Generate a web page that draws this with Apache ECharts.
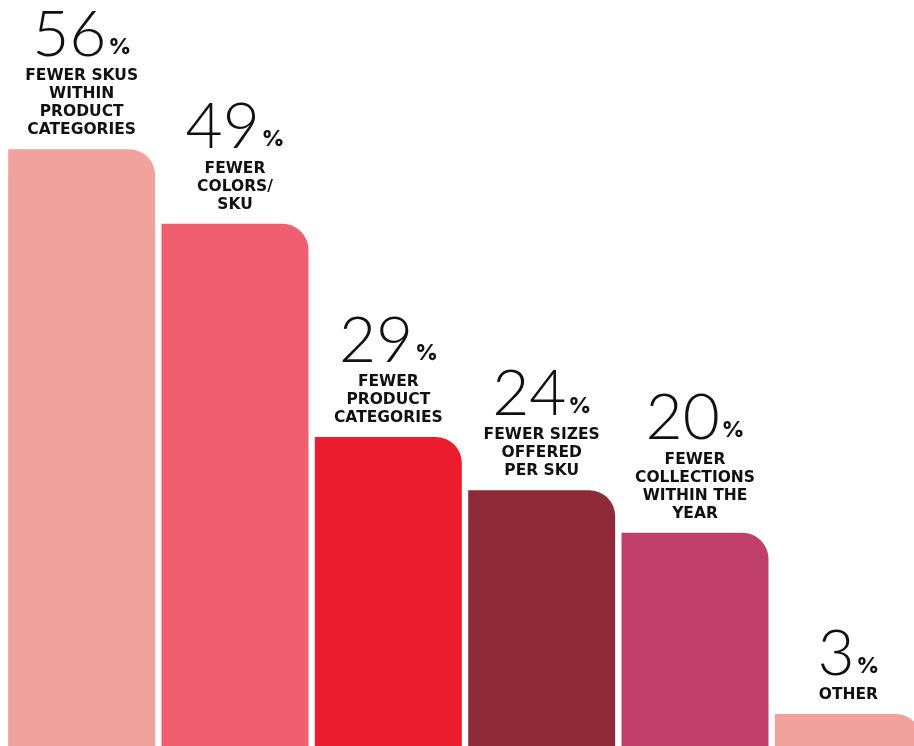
<!DOCTYPE html>
<html>
<head>
<meta charset="utf-8">
<script src="https://cdn.jsdelivr.net/npm/echarts@6/dist/echarts.min.js"></script>
<style>
  html, body { margin: 0; padding: 0; background: #ffffff; }
  #chart { width: 914px; height: 746px; }
</style>
</head>
<body>
<div id="chart"></div>
<script>
// Share of respondents reporting each kind of assortment reduction
const categories = [
  ['FEWER SKUS', 'WITHIN', 'PRODUCT', 'CATEGORIES'],
  ['FEWER', 'COLORS/', 'SKU'],
  ['FEWER', 'PRODUCT', 'CATEGORIES'],
  ['FEWER SIZES', 'OFFERED', 'PER SKU'],
  ['FEWER', 'COLLECTIONS', 'WITHIN THE', 'YEAR'],
  ['OTHER']
];
const values = [56, 49, 29, 24, 20, 3];
const colors = ['#f2a29c', '#ef5f70', '#ec1d2e', '#8f2a3b', '#c0406b', '#f2a29c'];

const chart = echarts.init(document.getElementById('chart'));

chart.setOption({
  backgroundColor: '#ffffff',
  animation: false,
  // the last bar runs past the right edge of the canvas
  grid: { left: 5, top: 0, bottom: 0, width: 920, outerBoundsMode: 'none', containLabel: false },
  xAxis: {
    type: 'category',
    data: categories.map(c => c.join(' ')),
    show: false
  },
  yAxis: { type: 'value', min: 0, max: 70, show: false },
  series: [{
    type: 'bar',
    barWidth: 147,
    data: values.map((v, i) => ({
      value: v,
      itemStyle: { color: colors[i], borderRadius: [0, 26, 0, 0] }
    })),
    label: {
      show: true,
      position: 'top',
      distance: 10,
      align: 'center',
      formatter: p => {
        const lines = categories[p.dataIndex].map(t => '{t|' + t + '}');
        return '{n|' + p.value + '}{p|%}\n' + lines.join('\n');
      },
      rich: {
        n: {
          fontFamily: 'Lato', fontWeight: 300, fontSize: 64,
          color: '#111111', lineHeight: 64, verticalAlign: 'bottom'
        },
        p: {
          fontFamily: 'Inter', fontWeight: 800, fontSize: 22,
          color: '#111111', lineHeight: 64, verticalAlign: 'bottom',
          padding: [0, 0, 9, 2]
        },
        t: {
          fontFamily: 'DejaVu Sans', fontWeight: 'bold', fontSize: 15.5,
          color: '#111111', lineHeight: 18, align: 'center'
        }
      }
    }
  }]
});
</script>
</body>
</html>
